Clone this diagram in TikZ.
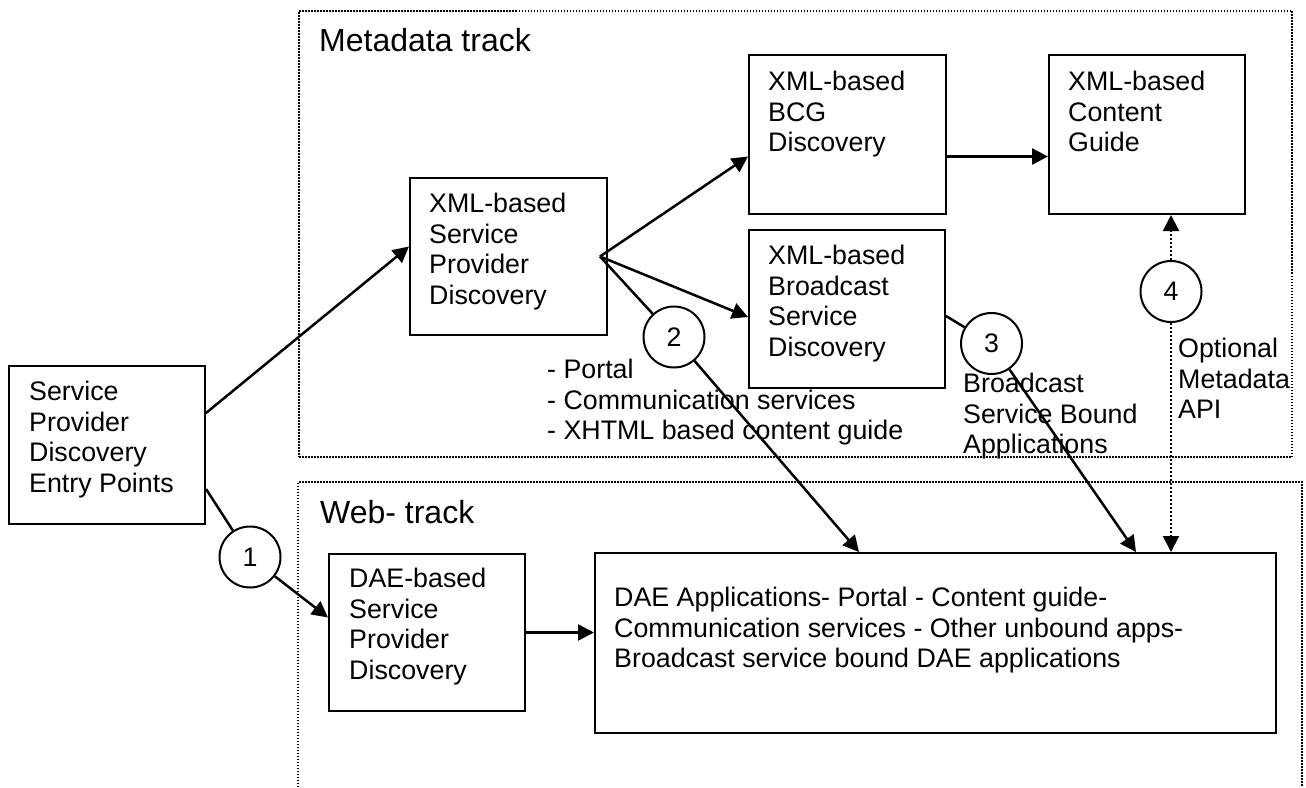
\documentclass[tikz,border=0pt]{standalone}
\usepackage{fontspec}
\setmainfont{Liberation Sans}
\usetikzlibrary{arrows.meta,calc}
\begin{document}
\begin{tikzpicture}[x=1pt,y=-1pt,
  box/.style={draw,line width=2pt,rectangle,inner sep=0pt,anchor=north west},
  txt/.style={anchor=north west,inner sep=0pt,align=left,font=\fontsize{26.8}{30.5}\selectfont},
  ttl/.style={anchor=base west,inner sep=0pt,font=\fontsize{32}{36}\selectfont},
  num/.style={draw,circle,line width=2pt,minimum size=61pt,inner sep=0pt,font=\fontsize{26.8}{30.5}\selectfont},
  conn/.style={line width=2.5pt},
  arr/.style={conn,-{Triangle[length=16pt,width=16pt]}},
  track/.style={line width=2pt,dash pattern=on 1.5pt off 1.5pt},
  dotarr/.style={line width=2pt,dash pattern=on 2pt off 2pt,-{Triangle[length=16pt,width=16pt]}}]
\useasboundingbox (0,0) rectangle (1306,787);

% track frames
\node[draw,track,rectangle,inner sep=0pt,anchor=north west,minimum width=993pt,minimum height=446pt] (meta) at (298,10) {};
\node[ttl] (metat) at ($(meta.north west)+(21,41)$) {Metadata track};
\coordinate (webtl) at (298,482);
\coordinate (webtr) at (1302,482);
\draw[track] (webtl |- 0,787) -- (webtl) -- (webtr) -- (webtr |- 0,787);
\node[ttl] (webt) at ($(webtl)+(22,41)$) {Web- track};

% boxes
\node[box,minimum width=196pt,minimum height=158pt] (entry) at (8,365) {};
\node[txt] at ($(entry.north west)+(21,16)$) {Service\\Provider\\Discovery\\Entry Points};

\node[box,minimum width=197pt,minimum height=157pt] (spd) at (409,177) {};
\node[txt] at ($(spd.north west)+(20,16)$) {XML-based\\Service\\Provider\\Discovery};

\node[box,minimum width=197pt,minimum height=159pt] (bcg) at (748,54) {};
\node[txt] at ($(bcg.north west)+(20,17)$) {XML-based\\BCG\\Discovery};

\node[box,minimum width=196pt,minimum height=158pt] (bsd) at (748,229) {};
\node[txt] at ($(bsd.north west)+(20,16)$) {XML-based\\Broadcast\\Service\\Discovery};

\node[box,minimum width=196pt,minimum height=159pt] (cg) at (1048,54) {};
\node[txt] at ($(cg.north west)+(20,17)$) {XML-based\\Content\\Guide};

\node[box,minimum width=196pt,minimum height=157pt] (daespd) at (328,553) {};
\node[txt] at ($(daespd.north west)+(21,15)$) {DAE-based\\Service\\Provider\\Discovery};

\node[box,minimum width=681pt,minimum height=180pt] (daeapp) at (594,552) {};
\node[txt] at ($(daeapp.north west)+(20,35)$) {DAE Applications- Portal - Content guide-\\Communication services - Other unbound apps-\\Broadcast service bound DAE applications};

% free labels
\node[txt] (portal) at (547,359) {- Portal\\- Communication services\\- XHTML based content guide};
\node[txt] (bsa) at (963,373) {Broadcast\\Service Bound\\Applications};
\node[txt] (opt) at (1178,338) {Optional\\Metadata\\API};

% numbered circles
\node[num] (c1) at (250,557) {1};
\node[num] (c2) at (674,337) {2};
\node[num] (c3) at (991.5,343.5) {3};
\node[num] (c4) at (1171,291.5) {4};

% connectors
\coordinate (br) at ($(spd.east)+(-8,0)$);
\draw[arr] ([yshift=32pt]entry.east) -- ([yshift=10pt]spd.west);
\draw[conn] ([yshift=-44pt]entry.east) -- (c1);
\draw[arr] (c1) -- ([yshift=15pt]daespd.west);
\draw[arr] (br) -- ([yshift=-22pt]bcg.west);
\draw[arr] (br) -- ([yshift=-8pt]bsd.west);
\draw[conn] (br) -- (c2);
\draw[arr] (c2) -- ([xshift=-76.5pt]daeapp.north);
\draw[arr] ([yshift=-22pt]bcg.east) -- ([yshift=-22pt]cg.west);
\draw[arr] (daespd.east) -- (daeapp.west |- daespd.east);
\draw[conn] ([yshift=-7pt]bsd.east) -- (c3);
\draw[arr] (c3) -- ([xshift=200.5pt]daeapp.north);
\draw[dotarr] (c4) -- (c4 |- cg.south);
\draw[dotarr] (c4) -- (c4 |- daeapp.north);
\end{tikzpicture}
\end{document}
